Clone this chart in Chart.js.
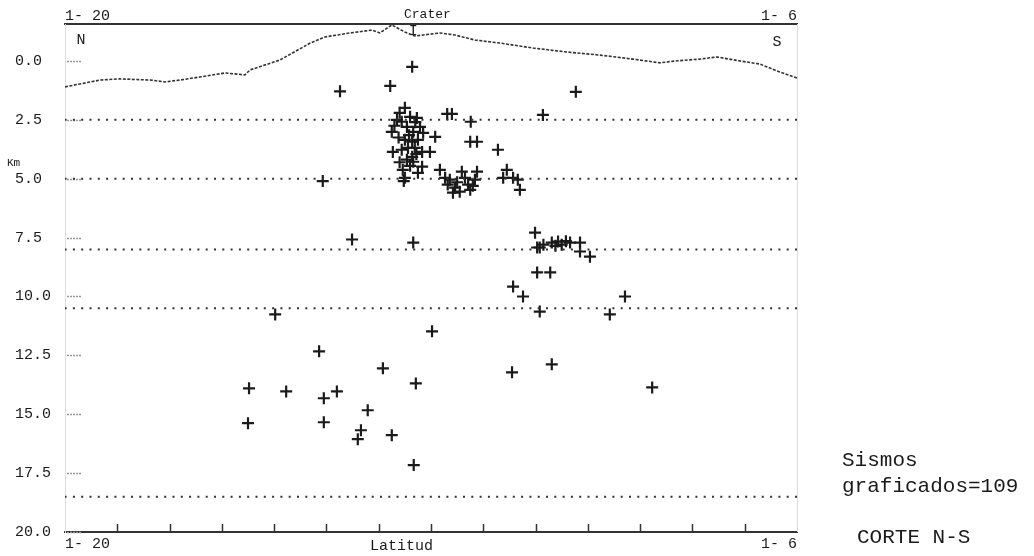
<!DOCTYPE html>
<html>
<head>
<meta charset="utf-8">
<title>Corte N-S</title>
<script src="https://cdn.jsdelivr.net/npm/chart.js@4.4.1/dist/chart.umd.min.js"></script>
<style>
  html, body { margin: 0; padding: 0; background: #fff; }
</style>
</head>
<body>
<canvas id="corte" width="1034" height="556"></canvas>
<script>
// latitude in minutes past 1 degree (north on the left), depth in km
const latEnds = [6, 20];
const latEndLabels = { 20: '1- 20', 6: '1- 6' };
const latMinorTicks = [19, 18, 17, 16, 15, 14, 13, 12, 11, 10, 9, 8, 7];
const depthTicks = [0, 2.5, 5, 7.5, 10, 12.5, 15, 17.5, 20];
const depthTop = -1.57;
const layerDepths = [2.5, 5.0, 8.0, 10.5, 18.5];
const craterLat = 13.34;

// surface profile
const topoLat = [20.00, 19.33, 18.95, 18.37, 18.09, 17.80, 17.42, 16.94, 16.56, 16.46,
  15.89, 15.31, 15.03, 14.55, 14.13, 13.98, 13.75, 13.50, 13.31, 12.83, 12.54, 12.16,
  11.68, 11.05, 10.40, 9.77, 9.14, 8.62, 8.33, 7.86, 7.53, 7.09, 6.71, 6.33, 6.00];
const topoDepth = [1.10, 0.81, 0.76, 0.81, 0.89, 0.81, 0.68, 0.51, 0.59, 0.38,
  -0.04, -0.76, -1.02, -1.19, -1.31, -1.19, -1.53, -1.23, -1.06, -1.19, -1.10, -0.89,
  -0.76, -0.55, -0.38, -0.25, -0.08, 0.08, 0.00, -0.08, -0.17, 0.00, 0.13, 0.47, 0.72];

// hypocentres
const quakeLat = [
  13.36, 13.78, 14.74, 10.23, 10.86, 12.69, 12.60, 12.24, 12.25, 12.12, 11.72, 15.07, 13.52,
  13.50, 13.65, 13.56, 13.40, 13.27, 13.75, 13.46, 13.34, 13.21, 13.15, 12.92, 13.50, 13.36,
  13.25, 13.73, 13.56, 13.44, 13.31, 13.17, 13.02, 13.46, 13.34, 13.17, 13.54, 13.50, 13.36,
  13.60, 13.30, 13.42, 13.62, 13.28, 13.60, 13.40, 13.25, 13.70,
  12.83, 12.73, 12.64, 12.54, 12.41, 12.35, 12.29, 12.16, 12.12, 12.25, 12.58, 11.55, 11.62,
  11.43, 11.34, 11.30, 12.50, 12.20, 12.45, 12.68,
  11.01, 10.97, 10.92, 10.69, 10.57, 10.50, 10.34, 10.15, 10.15, 9.96, 10.97, 10.72, 11.43,
  11.24, 9.29, 10.92, 9.58, 10.85, 10.62, 10.42, 14.51, 13.34,
  15.98, 12.98, 15.14, 13.92, 11.45, 10.69, 16.48, 15.77, 15.05, 14.80, 13.29, 14.21, 15.05,
  16.50, 14.34, 14.40, 13.75, 13.33, 8.77];
const quakeDepth = [
  0.25, 1.06, 1.29, 1.31, 2.29, 2.25, 2.25, 2.58, 3.43, 3.43, 3.77, 5.10, 5.10,
  1.99, 2.50, 2.58, 2.37, 2.42, 3.01, 2.80, 3.01, 2.80, 3.05, 3.22, 3.35, 3.43,
  3.35, 3.86, 3.77, 3.69, 3.69, 3.86, 3.86, 4.19, 4.28, 4.49, 4.62, 4.96, 4.07,
  2.20, 2.60, 3.15, 3.25, 3.95, 4.30, 4.45, 4.75, 2.75,
  4.62, 4.96, 5.04, 5.38, 4.70, 4.96, 5.25, 5.04, 4.70, 5.47, 5.59, 4.62, 4.96,
  4.96, 5.04, 5.47, 5.15, 5.30, 5.55, 5.25,
  7.29, 7.92, 7.92, 7.71, 7.67, 7.80, 7.71, 7.71, 8.09, 8.31, 8.98, 8.98, 9.58,
  10.00, 10.00, 10.64, 10.76, 7.80, 7.85, 7.65, 7.58, 7.71,
  10.76, 11.48, 12.33, 13.05, 13.22, 12.88, 13.90, 14.03, 14.32, 14.03, 13.69, 14.83, 15.34,
  15.38, 15.68, 16.06, 15.89, 17.16, 13.86];

const ink = '#1a1a1a';
const mono = '"Liberation Mono", "DejaVu Sans Mono", monospace';

const datasets = [];
datasets.push({
  label: 'perfil',
  data: topoLat.map((x, i) => ({ x: x, y: topoDepth[i] })),
  showLine: true,
  borderColor: '#333',
  borderWidth: 1.6,
  borderDash: [3, 1.5],
  pointRadius: 0
});
layerDepths.forEach(d => {
  datasets.push({
    label: 'capa ' + d,
    data: latEnds.map(x => ({ x: x, y: d })),
    showLine: true,
    borderColor: '#333',
    borderWidth: 2,
    borderDash: [2, 6.3],
    pointRadius: 0
  });
});
datasets.push({
  label: 'sismos',
  data: quakeLat.map((x, i) => ({ x: x, y: quakeDepth[i] })),
  pointStyle: 'cross',
  pointRadius: 6,
  borderColor: ink,
  borderWidth: 2.2
});

// tick marks inside the frame, frame side and annotations
const corteDecor = {
  id: 'corteDecor',
  beforeDatasetsDraw(chart) {
    const ctx = chart.ctx;
    const area = chart.chartArea;
    const xs = chart.scales.x;
    const ys = chart.scales.y;
    ctx.save();
    ctx.strokeStyle = '#999';
    ctx.lineWidth = 1.5;
    ctx.setLineDash([2, 1]);
    depthTicks.forEach(d => {
      const py = Math.round(ys.getPixelForValue(d)) + 0.5;
      ctx.beginPath();
      ctx.moveTo(area.left + 2, py);
      ctx.lineTo(area.left + 17, py);
      ctx.stroke();
    });
    ctx.setLineDash([]);
    ctx.strokeStyle = '#333';
    ctx.lineWidth = 1.5;
    latMinorTicks.forEach(v => {
      const px = Math.round(xs.getPixelForValue(v)) + 0.5;
      ctx.beginPath();
      ctx.moveTo(px, area.bottom);
      ctx.lineTo(px, area.bottom - 8);
      ctx.stroke();
    });
    ctx.strokeStyle = '#ddd';
    ctx.lineWidth = 1;
    ctx.beginPath();
    ctx.moveTo(area.right + 0.5, area.top);
    ctx.lineTo(area.right + 0.5, area.bottom);
    ctx.stroke();
    ctx.restore();
  },
  afterDraw(chart) {
    const ctx = chart.ctx;
    const xs = chart.scales.x;
    ctx.save();
    ctx.fillStyle = ink;
    ctx.textBaseline = 'middle';
    ctx.textAlign = 'left';
    ctx.font = '11px ' + mono;
    ctx.fillText('Km', 7, 163);
    ctx.font = '15px ' + mono;
    ctx.textAlign = 'center';
    ctx.fillText('N', 81, 40);
    ctx.fillText('S', 777, 42);
    ctx.fillText('I', xs.getPixelForValue(craterLat), 31);
    ctx.textAlign = 'left';
    ctx.fillText('Latitud', 370, 546);
    ctx.font = '13px ' + mono;
    ctx.fillText('Crater', 404, 15);
    ctx.font = '21px ' + mono;
    ctx.fillText('Sismos', 842, 460);
    ctx.fillText('graficados=109', 842, 486);
    ctx.fillText('CORTE N-S', 857, 537);
    ctx.restore();
  }
};

function latAxis(position, pad) {
  return {
    type: 'linear',
    position: position,
    min: 6,
    max: 20,
    reverse: true,
    grid: { display: false, drawTicks: false },
    border: { display: true, color: '#333', width: 2, dash: [5, 1] },
    ticks: {
      autoSkip: false,
      maxRotation: 0,
      align: 'inner',
      padding: pad,
      color: ink,
      font: { family: mono, size: 15 },
      callback: v => latEndLabels[v] || ''
    },
    afterBuildTicks: s => { s.ticks = latEnds.map(v => ({ value: v })); },
    afterFit: s => { s.height = 24; }
  };
}

new Chart(document.getElementById('corte'), {
  type: 'scatter',
  data: { datasets: datasets },
  options: {
    responsive: false,
    animation: false,
    layout: { padding: { left: 15, right: 237, top: 0, bottom: 0 } },
    plugins: {
      legend: { display: false },
      tooltip: { enabled: false }
    },
    scales: {
      x: latAxis('bottom', 3),
      x2: latAxis('top', -1),
      y: {
        type: 'linear',
        position: 'left',
        min: depthTop,
        max: 20,
        reverse: true,
        grid: { display: false, drawTicks: false },
        border: { display: true, color: '#ddd', width: 1 },
        ticks: {
          crossAlign: 'far',
          color: ink,
          font: { family: mono, size: 15 },
          callback: v => Number(v).toFixed(1)
        },
        afterBuildTicks: s => { s.ticks = depthTicks.map(v => ({ value: v })); },
        afterFit: s => { s.width = 50; }
      }
    }
  },
  plugins: [corteDecor]
});
</script>
</body>
</html>
